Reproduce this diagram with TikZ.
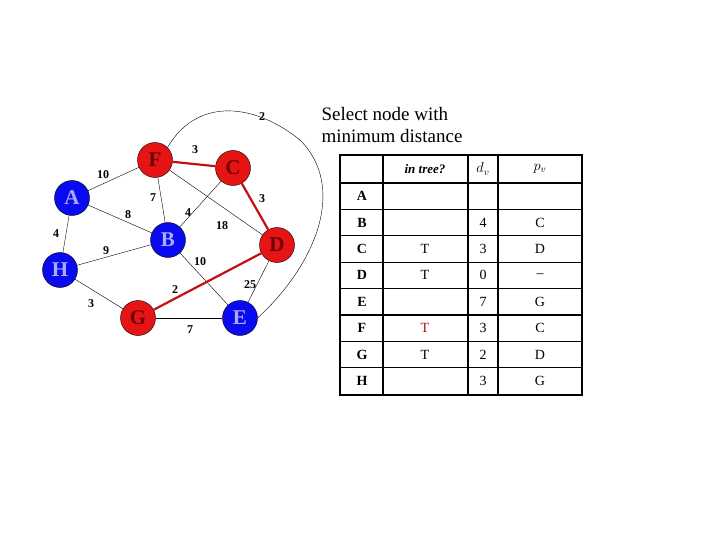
\documentclass[tikz,border=0pt]{standalone}
\usepackage{fontspec}
\setmainfont{Liberation Serif}
\definecolor{vblue}{RGB}{10,10,240}
\definecolor{vred}{RGB}{230,20,20}
\definecolor{lblue}{RGB}{170,170,255}
\definecolor{dred}{RGB}{110,0,0}
\definecolor{tred}{RGB}{170,20,20}
\tikzset{%
  every vertex/.style={
    circle,
    draw=black,
    minimum size=35pt,
    inner sep=0pt,
    font=\fontsize{21}{21}\selectfont\bfseries
  },
  vertex out/.style={fill=vblue, text=lblue},
  vertex in/.style={fill=vred, text=dred},
  weight/.style={font=\fontsize{12}{12}\selectfont\bfseries},
  tree edge/.style={draw=vred!85!black, line width=2.2pt},
  cell/.style={font=\fontsize{14}{14}\selectfont},
}
\begin{document}
\begin{tikzpicture}[x=1pt, y=-1pt]
\useasboundingbox (0,0) rectangle (720,540);

% vertices
\foreach \n/\s/\px/\py in {A/out/72/198, B/out/168/240, C/in/233/168, D/in/277/245,
    E/out/240/318, F/in/155/160, G/in/138/318, H/out/60/270}
  \node [every vertex, vertex \s] (\n) at (\px,\py) {\n};

% edges
\begin{scope}[on background layer/.try]
\foreach \a/\b in {A/F, A/B, A/H, F/B, F/D, C/B, H/B, B/E, H/G, G/E, D/E}
  \draw (\a) -- (\b);
\foreach \a/\b in {F/C, C/D, G/D}
  \draw [tree edge] (\a) -- (\b);
\end{scope}
\draw (F.north east) .. controls (195,100) and (250,100) .. (300,140)
  .. controls (345,185) and (320,260) .. (E.east);

% weights
\foreach \w/\px/\py in {10/103/175, 3/195/150, 7/153/198, 4/188/213, 8/128/215,
    3/262/199, 18/222/226, 4/56/234, 9/106/251, 10/200/262, 2/175/290,
    25/250/285, 3/91/304, 7/190/330, 2/262/117}
  \node [weight] at (\px,\py) {\w};

\node [align=left, font=\fontsize{19}{22}\selectfont] (title) at (392,125)
  {Select node with\\minimum distance};

% table
\draw [line width=1.2pt] (340,183) -- (582,183);
\foreach \r in {1,...,7}
  \draw [line width=1.2pt] (340,183+26.4*\r) -- (582,183+26.4*\r);
\foreach \c in {383,468,498}
  \draw [line width=1.2pt] (\c,155) -- (\c,395);
\draw [line width=2.2pt] (340,155) rectangle (582,395);

\node [cell, font=\fontsize{13}{13}\selectfont\bfseries\itshape] at (425,169) {in tree?};
\node [cell, font=\fontsize{14}{14}\selectfont\bfseries\itshape] at (483,169) {$d_v$};
\node [cell, font=\fontsize{14}{14}\selectfont\bfseries\itshape] at (540,169) {$p_v$};

\foreach \n/\t/\d/\p [count=\i from 0] in {A/{}/{}/{}, B/{}/4/C, C/T/3/D, D/T/0/--,
    E/{}/7/G, F/{\textcolor{tred}{T}}/3/C, G/T/2/D, H/{}/3/G} {
  \node [cell, font=\fontsize{14}{14}\selectfont\bfseries] at (362,196.2+26.4*\i) {\n};
  \node [cell] at (425,196.2+26.4*\i) {\t};
  \node [cell] at (483,196.2+26.4*\i) {\d};
  \node [cell] at (540,196.2+26.4*\i) {\p};
}
\end{tikzpicture}
\end{document}
